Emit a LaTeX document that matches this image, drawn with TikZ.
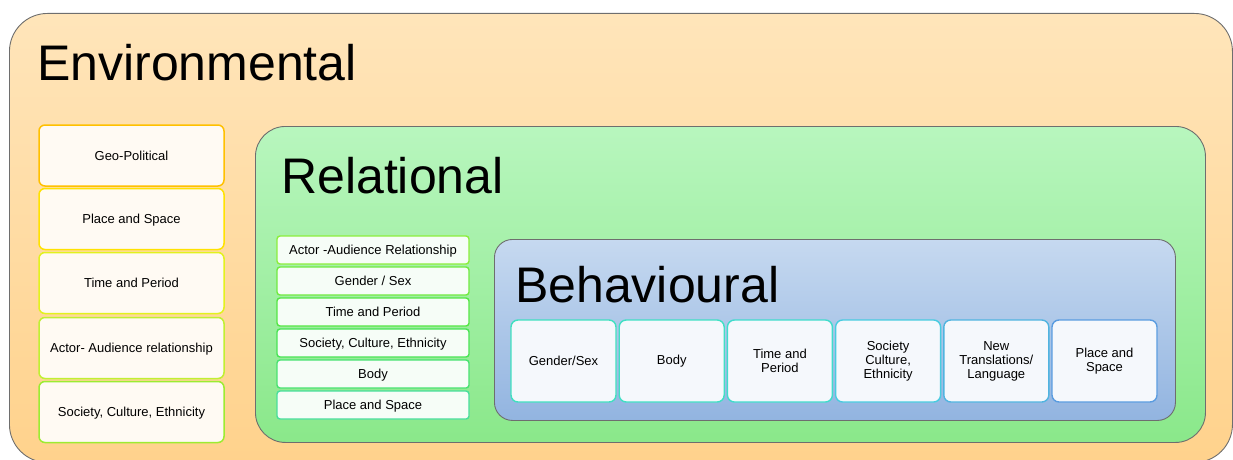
\documentclass[tikz,border=0pt]{standalone}
\usepackage{fontspec}
\setmainfont{Liberation Sans}
\definecolor{envtop}{RGB}{255,229,186}
\definecolor{envbot}{RGB}{255,210,140}
\definecolor{reltop}{RGB}{184,246,190}
\definecolor{relbot}{RGB}{138,232,138}
\definecolor{behtop}{RGB}{198,217,240}
\definecolor{behbot}{RGB}{146,180,224}
\definecolor{panelline}{RGB}{110,110,110}
\definecolor{efill}{RGB}{255,250,243}
\definecolor{rfill}{RGB}{246,253,247}
\definecolor{bfill}{RGB}{245,248,252}
\definecolor{eA}{RGB}{255,192,0}
\definecolor{eB}{RGB}{255,226,0}
\definecolor{eC}{RGB}{226,242,30}
\definecolor{eD}{RGB}{192,240,50}
\definecolor{eE}{RGB}{156,236,50}
\definecolor{rA}{RGB}{140,238,60}
\definecolor{rB}{RGB}{112,234,64}
\definecolor{rC}{RGB}{84,230,68}
\definecolor{rD}{RGB}{72,228,84}
\definecolor{rE}{RGB}{72,226,112}
\definecolor{rF}{RGB}{72,222,156}
\definecolor{bA}{RGB}{64,224,192}
\definecolor{bB}{RGB}{64,224,196}
\definecolor{bC}{RGB}{64,220,204}
\definecolor{bD}{RGB}{72,204,224}
\definecolor{bE}{RGB}{80,180,224}
\definecolor{bF}{RGB}{90,156,224}
\begin{document}
\begin{tikzpicture}[x=1pt,y=-1pt,
  panel/.style={draw=panelline, line width=0.9pt, inner sep=0pt, anchor=north west},
  titletext/.style={inner sep=0pt, anchor=base west, font=\fontsize{50}{56}\selectfont},
  smalltext/.style={font=\fontsize{13}{14}\selectfont, align=center, inner sep=0pt},
  ebox/.style={smalltext, text height=9.5pt, text depth=0.5pt, draw=#1, line width=1.5pt, fill=efill, rounded corners=6pt, minimum width=185pt, minimum height=61pt},
  rbox/.style={smalltext, text height=9.5pt, text depth=0.5pt, draw=#1, line width=1.4pt, fill=rfill, rounded corners=3pt, minimum width=192pt, minimum height=28pt},
  bbox/.style={smalltext, draw=#1, line width=1.4pt, fill=bfill, rounded corners=7pt, minimum width=105pt, minimum height=82pt}
]
\useasboundingbox (0,0) rectangle (1233,460);
% panels
\node[panel, rounded corners=38pt, top color=envtop, bottom color=envbot, minimum width=1223pt, minimum height=449pt] (env) at (9,13) {};
\node[panel, rounded corners=30pt, top color=reltop, bottom color=relbot, minimum width=950pt, minimum height=316pt] (rel) at (255,126) {};
\node[panel, rounded corners=18pt, top color=behtop, bottom color=behbot, minimum width=681pt, minimum height=181pt] (beh) at (494,239) {};
% titles
\node[titletext] (envt) at (37,81) {Environmental};
\node[titletext] (relt) at (281,193) {Relational};
\node[titletext] (beht) at (515,302) {Behavioural};
% environmental boxes
\node[ebox=eA] (e1) at (131.5,155.5) {Geo-Political};
\node[ebox=eB] (e2) at (131.5,219) {Place and Space};
\node[ebox=eC] (e3) at (131.5,283) {Time and Period};
\node[ebox=eD] (e4) at (131.5,348) {Actor- Audience relationship};
\node[ebox=eE] (e5) at (131.5,412) {Society, Culture, Ethnicity};
% relational boxes
\node[rbox=rA] (r1) at (373,250) {Actor -Audience Relationship};
\node[rbox=rB] (r2) at (373,281) {Gender / Sex};
\node[rbox=rC] (r3) at (373,312) {Time and Period};
\node[rbox=rD] (r4) at (373,343) {Society, Culture, Ethnicity};
\node[rbox=rE] (r5) at (373,374) {Body};
\node[rbox=rF] (r6) at (373,405) {Place and Space};
% behavioural boxes
\node[bbox=bA] (b1) at (563.5,361) {Gender/Sex};
\node[bbox=bB] (b2) at (671.7,361) {Body};
\node[bbox=bC] (b3) at (779.9,361) {Time and\\Period};
\node[bbox=bD] (b4) at (888.1,361) {Society\\Culture,\\Ethnicity};
\node[bbox=bE] (b5) at (996.3,361) {New\\Translations/\\Language};
\node[bbox=bF] (b6) at (1104.5,361) {Place and\\Space};
\end{tikzpicture}
\end{document}
